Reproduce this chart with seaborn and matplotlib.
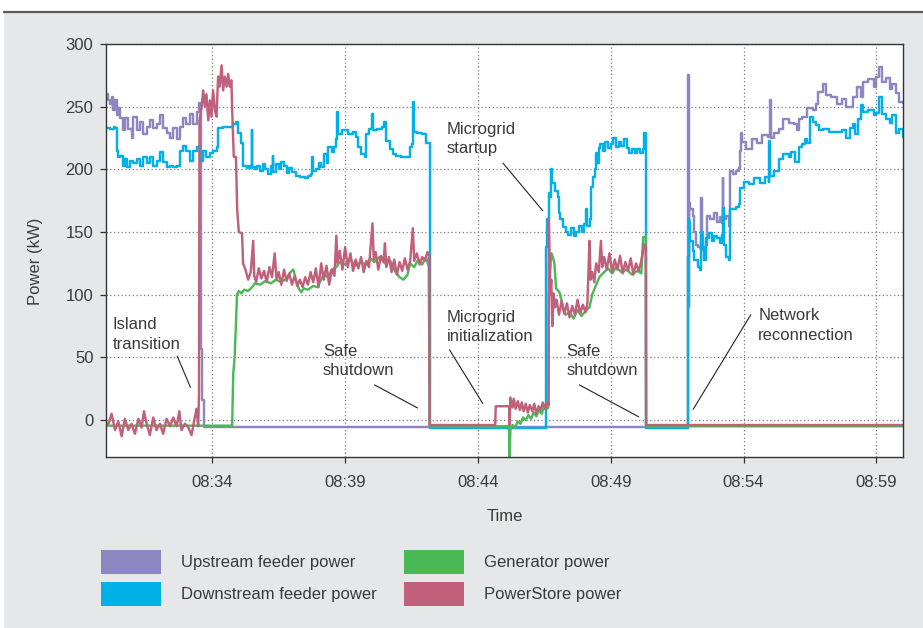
import matplotlib
matplotlib.use("Agg")
import matplotlib.pyplot as plt
import seaborn as sns
import pandas as pd
from matplotlib.patches import Patch, Rectangle
from matplotlib.lines import Line2D

# ---------------- data (minutes after 08:30, kW) ----------------
series_names = ["Upstream feeder power", "Downstream feeder power",
                "Generator power", "PowerStore power"]
series_colors = ["#8d87c1", "#00b0e6", "#4cb957", "#c0607a"]
series_steps = [True, True, False, False]
tick_labels = ["08:34", "08:39", "08:44", "08:49", "08:54", "08:59"]

up_t = [0.0, 0.09, 0.15, 0.21, 0.28, 0.34, 0.40, 0.46, 0.53, 0.65, 0.71, 0.84, 0.97, 1.03, 1.15,
        1.28, 1.40, 1.53, 1.65, 1.78, 1.91, 2.03, 2.15, 2.28, 2.41, 2.53, 2.66, 2.78, 2.91, 3.03,
        3.16, 3.28, 3.41, 3.51, 3.57, 3.58, 3.62, 3.63, 3.68, 3.70, 21.88, 21.89, 21.92, 21.94,
        21.96, 22.0, 22.08, 22.15, 22.22, 22.27, 22.39, 22.41, 22.43, 22.48, 22.58, 22.62, 22.75,
        22.9, 23.0, 23.1, 23.2, 23.21, 23.24, 23.35, 23.46, 23.47, 23.6, 23.7, 23.83, 23.88, 23.9,
        23.95, 24.1, 24.3, 24.5, 24.7, 24.9, 24.96, 24.98, 25.02, 25.15, 25.34, 25.5, 25.7, 25.9,
        26.0, 26.1, 26.21, 26.4, 26.6, 26.72, 26.8, 26.97, 27.1, 27.3, 27.5, 27.7, 27.85, 28.0,
        28.1, 28.25, 28.41, 28.5, 28.7, 28.9, 29.0, 29.1, 29.2, 29.35, 29.5, 29.6, 29.73, 29.85, 30.0]
up_p = [260, 255, 252, 258, 247, 255, 243, 249, 241, 231, 241, 232, 225, 242, 231,
        238, 228, 234, 239, 233, 236, 243, 233, 229, 225, 233, 224, 234, 241, 236,
        244, 236, 246, 253, 253, 57, 57, 16, 16, -5.5, -5.5, 275, 275, 90,
        173, 168, 163, 150, 140, 138, 136, 177, 150, 136, 140, 163, 160,
        165, 158, 162, 157, 193, 160, 163, 155, 199, 196, 199, 201, 215, 229,
        222, 216, 224, 221, 227, 226, 226, 255, 225, 229, 232, 240, 237, 236,
        231, 240, 242, 249, 247, 252, 262, 268, 259, 258, 252, 256, 250, 250,
        258, 266, 258, 270, 272, 266, 274, 282, 270, 273, 264, 268, 261, 254, 253]

down_t = [0.0, 0.15, 0.30, 0.34, 0.40, 0.46, 0.53, 0.65, 0.71, 0.78, 0.90, 1.03, 1.15, 1.28,
          1.40, 1.53, 1.65, 1.78, 1.91, 2.03, 2.15, 2.28, 2.41, 2.53, 2.66, 2.78, 2.91, 3.03,
          3.16, 3.28, 3.41, 3.53, 3.66, 3.78, 3.91, 4.04, 4.16, 4.22, 4.41, 4.66, 4.79, 4.91,
          4.98, 5.10, 5.16, 5.29, 5.4, 5.46, 5.48, 5.5, 5.6, 5.7, 5.8, 5.91, 6.0, 6.1, 6.2,
          6.27, 6.3, 6.4, 6.5, 6.6, 6.7, 6.8, 6.9, 7.0, 7.17, 7.3, 7.5, 7.6, 7.73, 7.75, 7.8,
          7.9, 8.0, 8.1, 8.2, 8.3, 8.35, 8.5, 8.6, 8.67, 8.68, 8.72, 8.9, 9.1, 9.3, 9.42, 9.5,
          9.6, 9.75, 9.8, 9.9, 10.0, 10.03, 10.06, 10.2, 10.4, 10.45, 10.55, 10.7, 10.8, 10.93,
          11.1, 11.3, 11.43, 11.52, 11.55, 11.58, 11.7, 11.9, 12.06, 12.17, 12.18, 16.56, 16.57,
          16.6, 16.66, 16.7, 16.75, 16.8, 16.9, 17.0, 17.05, 17.1, 17.2, 17.3, 17.4, 17.5, 17.6,
          17.7, 17.8, 17.9, 18.0, 18.05, 18.1, 18.2, 18.25, 18.32, 18.4, 18.45, 18.5, 18.57,
          18.6, 18.7, 18.8, 18.9, 19.0, 19.1, 19.2, 19.3, 19.4, 19.5, 19.6, 19.7, 19.8, 19.9,
          20.0, 20.1, 20.2, 20.25, 20.32, 20.33, 21.88, 21.89, 21.93, 21.95, 22.0, 22.08, 22.15,
          22.27, 22.35, 22.39, 22.43, 22.5, 22.58, 22.7, 22.8, 22.9, 23.0, 23.1, 23.2, 23.21,
          23.25, 23.35, 23.46, 23.5, 23.7, 23.83, 23.88, 24.0, 24.2, 24.4, 24.6, 24.8, 24.95,
          24.96, 25.0, 25.15, 25.34, 25.5, 25.7, 25.8, 25.95, 26.1, 26.21, 26.3, 26.4, 26.5,
          26.6, 26.72, 26.85, 26.97, 27.2, 27.5, 27.7, 27.85, 28.0, 28.1, 28.2, 28.3, 28.41,
          28.5, 28.7, 28.9, 29.0, 29.1, 29.2, 29.35, 29.5, 29.6, 29.73, 29.85, 30.0]
down_p = [233, 232, 234, 233, 215, 210, 211, 203, 208, 202, 207, 205, 208, 203,
          210, 205, 210, 203, 207, 214, 206, 202, 203, 202, 203, 215, 219, 215,
          207, 215, 218, 207, 215, 210, 213, 215, 218, 233, 234, 234, 236, 238,
          229, 221, 203, 201, 203, 201, 231, 202, 200, 203, 199, 204, 200, 196, 203,
          211, 198, 204, 200, 206, 203, 197, 201, 198, 195, 194, 193, 195, 196, 210, 199,
          200, 205, 202, 212, 205, 218, 214, 218, 224, 246, 228, 231, 228, 230, 226, 218,
          212, 210, 228, 232, 234, 244, 231, 232, 234, 238, 223, 216, 212, 211,
          210, 210, 218, 220, 254, 230, 229, 228, 221, 221, -6, -6, 138,
          160, 181, 178, 200, 189, 183, 178, 165, 160, 154, 150, 148, 153, 147,
          150, 155, 150, 156, 168, 155, 160, 186, 194, 200, 213, 205, 217,
          220, 215, 222, 217, 220, 225, 218, 222, 219, 224, 217, 213, 216, 213,
          216, 213, 216, 229, 228, -6, -6, 130, 160, 158, 143, 135, 128,
          122, 120, 150, 138, 128, 145, 149, 143, 147, 145, 141, 148, 169,
          140, 130, 128, 168, 170, 172, 185, 190, 188, 193, 189, 194, 190,
          223, 195, 199, 208, 212, 210, 214, 206, 218, 220, 224, 221, 242,
          238, 235, 231, 232, 230, 230, 231, 225, 233, 236, 228, 240, 251,
          246, 247, 243, 245, 258, 244, 240, 237, 243, 229, 232, 226]

gen_t = [0.0, 4.75, 4.76, 4.79, 4.84, 4.88, 4.93, 5.0, 5.1, 5.2, 5.35, 5.5, 5.6, 5.8, 6.0,
         6.2, 6.4, 6.6, 6.8, 6.95, 7.05, 7.15, 7.25, 7.35, 7.45, 7.6, 7.8, 7.95, 8.05, 8.2,
         8.35, 8.5, 8.67, 8.8, 9.0, 9.2, 9.4, 9.6, 9.8, 9.95, 10.1, 10.3, 10.5, 10.7, 10.9,
         11.05, 11.2, 11.35, 11.45, 11.6, 11.75, 11.9, 12.05, 12.15, 12.18, 15.17, 15.19, 15.22,
         15.3, 15.4, 15.5, 15.6, 15.7, 15.8, 15.9, 16.0, 16.1, 16.2, 16.3, 16.4, 16.5, 16.6,
         16.65, 16.67, 16.76, 16.82, 16.88, 16.94, 17.07, 17.15, 17.2, 17.3, 17.45, 17.6, 17.75,
         17.9, 18.05, 18.2, 18.3, 18.45, 18.57, 18.75, 18.9, 19.05, 19.2, 19.4, 19.6, 19.8,
         20.0, 20.15, 20.22, 20.32, 20.33, 30.0]
gen_p = [-4.5, -4.5, 8, 37, 50, 70, 100, 103, 101, 104, 103, 106, 109, 108, 111,
         109, 112, 110, 113, 118, 120, 112, 105, 102, 105, 104, 107, 106, 110, 116,
         114, 120, 122, 126, 124, 128, 123, 126, 124, 129, 126, 130, 125, 127, 118,
         114, 112, 116, 125, 122, 128, 124, 130, 122, -5, -5, -30, -8,
         -4, -6, -1, -3, 2, 0, 4, 1, 6, 3, 8, 5, 12, 9,
         10, 100, 133, 130, 125, 105, 102, 95, 88, 84, 86, 81, 88,
         83, 87, 90, 100, 108, 114, 118, 121, 117, 122, 118, 120, 116,
         119, 117, 146, 146, -5, -5]

ps_t = [0.0, 0.09, 0.21, 0.34, 0.46, 0.59, 0.71, 0.84, 0.96, 1.09, 1.22, 1.34, 1.43, 1.53,
        1.65, 1.78, 1.9, 2.03, 2.15, 2.28, 2.41, 2.53, 2.66, 2.76, 2.84, 2.97, 3.1, 3.22,
        3.35, 3.41, 3.47, 3.5, 3.52, 3.6, 3.66, 3.72, 3.78, 3.85, 3.91, 3.97, 4.03, 4.1, 4.16,
        4.22, 4.28, 4.35, 4.41, 4.47, 4.54, 4.6, 4.66, 4.72, 4.75, 4.81, 4.89, 4.94, 5.0, 5.12,
        5.16, 5.25, 5.35, 5.45, 5.54, 5.58, 5.65, 5.75, 5.85, 5.95, 6.05, 6.15, 6.25, 6.35,
        6.42, 6.5, 6.6, 6.7, 6.8, 6.9, 7.0, 7.1, 7.2, 7.3, 7.4, 7.5, 7.6, 7.7, 7.8, 7.9, 8.0,
        8.1, 8.2, 8.3, 8.4, 8.5, 8.6, 8.67, 8.72, 8.8, 8.9, 9.0, 9.1, 9.2, 9.3, 9.4, 9.5, 9.6,
        9.7, 9.8, 9.9, 10.03, 10.08, 10.15, 10.25, 10.35, 10.45, 10.5, 10.55, 10.65, 10.75,
        10.85, 10.95, 11.05, 11.15, 11.25, 11.35, 11.45, 11.55, 11.6, 11.7, 11.8, 11.9, 12.0,
        12.1, 12.17, 12.18, 14.65, 14.67, 15.18, 15.19, 15.22, 15.3, 15.35, 15.42, 15.5, 15.58,
        15.65, 15.72, 15.8, 15.88, 15.95, 16.05, 16.12, 16.2, 16.28, 16.36, 16.44, 16.52, 16.6,
        16.66, 16.67, 16.72, 16.76, 16.8, 16.85, 16.9, 16.96, 17.05, 17.15, 17.25, 17.35, 17.45,
        17.55, 17.65, 17.75, 17.85, 17.95, 18.05, 18.12, 18.2, 18.24, 18.3, 18.38, 18.45, 18.55,
        18.63, 18.68, 18.75, 18.85, 18.95, 19.05, 19.15, 19.25, 19.35, 19.45, 19.55, 19.65,
        19.75, 19.85, 19.95, 20.05, 20.15, 20.25, 20.32, 20.33, 30.0]
ps_p = [-3, -3, 5, -8, -1, -13, 1, -8, -3, -11, 1, -6, 7, -3,
        -12, 2, -8, -3, -11, 1, -5, 2, -5, 7, -8, -3, -6, -12,
        3, 9, -5, 20, 239, 250, 263, 250, 260, 239, 255, 242, 263, 247, 242,
        274, 266, 283, 263, 274, 266, 276, 266, 271, 247, 210, 210, 167, 150, 149,
        125, 120, 112, 118, 143, 115, 110, 121, 113, 119, 110, 122, 114, 133,
        112, 118, 108, 120, 111, 117, 108, 115, 107, 112, 106, 114, 108, 118, 110, 121, 106,
        125, 112, 123, 108, 120, 115, 147, 125, 135, 120, 138, 122, 133, 119, 128, 121, 130,
        118, 127, 122, 157, 128, 134, 120, 131, 126, 141, 122, 130, 118,
        128, 116, 126, 119, 129, 120, 127, 153, 127, 133, 124, 130, 127,
        134, 131, -4, -4, 11, 11, -4, 18, 10, 17, 9, 15, 8,
        14, 7, 13, 6, 12, 7, 13, 5, 11, 8, 14, 9, 14,
        12, 160, 100, 112, 75, 101, 90, 96, 84, 95, 85, 93, 82,
        91, 84, 96, 85, 92, 86, 93, 143, 112, 118, 110, 125, 118,
        143, 122, 130, 120, 133, 118, 128, 120, 131, 117, 126, 119,
        129, 116, 125, 119, 127, 140, 138, -4, -4]

annot_texts = ["Island\ntransition", "Safe\nshutdown", "Microgrid\nstartup",
               "Microgrid\ninitialization", "Safe\nshutdown", "Network\nreconnection"]
annot_text_pos = [(0.26, 82), (8.16, 61), (12.82, 238), (12.82, 88), (17.33, 61), (24.55, 89)]
annot_line_from = [(2.68, 51), (10.11, 28), (14.94, 205), (12.93, 56), (17.82, 28), (24.27, 84)]
annot_line_to = [(3.18, 26), (11.73, 9.6), (16.44, 167), (14.18, 13.3), (20.05, 2.6), (22.1, 8.5)]

# ---------------- figure ----------------
sns.set_style("ticks")
plt.rcParams["font.family"] = ["Liberation Sans", "DejaVu Sans"]
TXT = "#3a3a3a"
FS = 12

W, H = 923, 628
fig = plt.figure(figsize=(W / 100, H / 100), dpi=100)
fig.patch.set_facecolor("white")
fig.patches.append(Rectangle((4 / W, 0), 1 - 4 / W, 1 - 13 / H, transform=fig.transFigure,
                             facecolor="#e6e7e8", edgecolor="none", zorder=-10))
fig.lines.append(Line2D([4 / W, 1], [1 - 12 / H, 1 - 12 / H], transform=fig.transFigure,
                        color="#5a5a5a", lw=1.6, zorder=-9))

ax = fig.add_axes([106 / W, 1 - 457 / H, (903 - 106) / W, (457 - 44) / H])
ax.set_zorder(5)
ax.set_facecolor("white")

data = [(up_t, up_p), (down_t, down_p), (gen_t, gen_p), (ps_t, ps_p)]
for (tt, pp), name, col, stp in zip(data, series_names, series_colors, series_steps):
    n = min(len(tt), len(pp))
    df = pd.DataFrame({"t": tt[:n], "p": pp[:n]})
    sns.lineplot(data=df, x="t", y="p", ax=ax, color=col, lw=1.75, sort=False,
                 estimator=None, legend=False,
                 drawstyle="steps-post" if stp else "default")

ax.set_xlim(0, 30)
ax.set_ylim(-29.5, 300)
ax.set_yticks(range(0, 301, 50))
ax.set_xticks([int(s[3:]) - 30 for s in tick_labels])
ax.set_xticklabels(tick_labels)
ax.grid(True, linestyle=(0, (1, 2)), color="#7a7a7a", linewidth=0.9)
ax.set_axisbelow(True)
for s in ax.spines.values():
    s.set_color("#333333")
    s.set_linewidth(1.0)
ax.tick_params(axis="both", direction="out", length=4, width=0.9, color="#333333",
               labelsize=FS, labelcolor=TXT, pad=5)
ax.tick_params(axis="x", pad=9)
ax.set_xlabel("Time", fontsize=FS, color=TXT)
ax.set_ylabel("Power (kW)", fontsize=FS, color=TXT)
ax.xaxis.set_label_coords(0.5, -0.127)
ax.yaxis.set_label_coords(-0.079, 0.475)

for txt, (tx, ty), (x0, y0), (x1, y1) in zip(annot_texts, annot_text_pos,
                                             annot_line_from, annot_line_to):
    ax.text(tx, ty, txt, fontsize=FS, color=TXT, ha="left", va="top", linespacing=1.38)
    ax.annotate("", xy=(x1, y1), xytext=(x0, y0),
                arrowprops=dict(arrowstyle="-", color="#222222", lw=0.8,
                                shrinkA=0, shrinkB=0))

handles = [Patch(facecolor=c, edgecolor="none") for c in series_colors]
fig.legend(handles, series_names,
           loc="upper left", bbox_to_anchor=(101 / W, 1 - 550 / H), ncol=2,
           frameon=False, fontsize=FS, handlelength=3.6, handleheight=1.85,
           handletextpad=1.2, labelspacing=0.45, columnspacing=1.64, borderpad=0,
           borderaxespad=0, labelcolor=TXT)

fig.savefig("out.png", dpi=100)
